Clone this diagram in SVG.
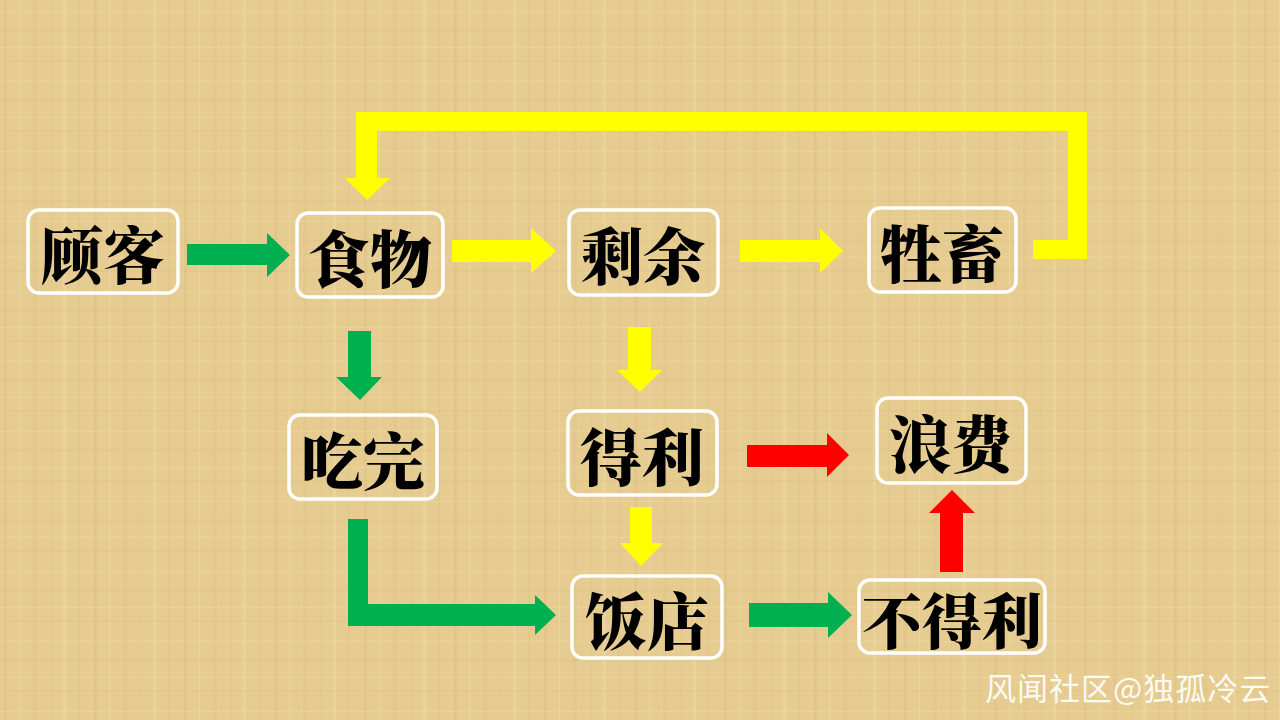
<svg xmlns="http://www.w3.org/2000/svg" width="1280" height="720" viewBox="0 0 1280 720">
<defs>
<style>
.box{fill:none;stroke:#ffffff;stroke-width:3.5}
.lbl{font-family:"Noto Serif CJK SC","Noto Sans CJK SC",serif;font-weight:900;font-size:62px;fill:#000;text-anchor:middle;dominant-baseline:central}
.g{fill:#00B050}.y{fill:#FFFF00}.r{fill:#FF0000}
.wm{font-family:"Noto Sans CJK SC","Noto Sans",sans-serif;font-size:31px;letter-spacing:1px;fill:#ffffff;fill-opacity:0.92}
</style>
<pattern id="tex" x="0" y="0" width="90" height="70" patternUnits="userSpaceOnUse">
<rect width="90" height="70" fill="#E6CC90"/>
<rect x="4" y="0" width="3" height="70" fill="#CDAE6C" opacity="0.18"/>
<rect x="19" y="0" width="1" height="70" fill="#F4E3B3" opacity="0.35"/>
<rect x="33" y="0" width="4" height="70" fill="#D4B574" opacity="0.18"/>
<rect x="51" y="0" width="1" height="70" fill="#CDAE6C" opacity="0.2"/>
<rect x="63" y="0" width="3" height="70" fill="#F4E3B3" opacity="0.3"/>
<rect x="78" y="0" width="2" height="70" fill="#CDAE6C" opacity="0.15"/>
<rect x="0" y="11" width="90" height="1" fill="#F4E3B3" opacity="0.3"/>
<rect x="0" y="29" width="90" height="3" fill="#D4B574" opacity="0.12"/>
<rect x="0" y="47" width="90" height="1" fill="#F4E3B3" opacity="0.28"/>
<rect x="0" y="60" width="90" height="2" fill="#CDAE6C" opacity="0.12"/>
</pattern>
</defs>
<rect width="1280" height="720" fill="url(#tex)"/>

<g id="connectors">
<polygon class="y" points="356,112 1087,112 1087,259 1033,259 1033,240 1068,240 1068,131 377,131 377,178 390,178 367,200 345,178 356,178"/>
<polygon class="g" points="187,244 267,244 267,233 290,255 267,277 267,265 187,265"/>
<polygon class="y" points="452,240 531,240 531,228 556,251 531,273 531,262 452,262"/>
<polygon class="y" points="740,240 820,240 820,228 843,251 820,273 820,262 740,262"/>
<polygon class="g" points="348,331 371,331 371,377 382,377 360,400 336,377 348,377"/>
<polygon class="y" points="628,327 651,327 651,370 662,370 640,392 617,370 628,370"/>
<polygon class="y" points="630,507 652,507 652,543 663,543 641,566 620,543 630,543"/>
<polygon class="g" points="348,519 368,519 368,604 535,604 535,595 556,615 535,635 535,626 348,626"/>
<polygon class="r" points="747,445 827,445 827,433 849,455 827,477 827,467 747,467"/>
<polygon class="r" points="940,572 963,572 963,513 975,513 952,490 929,513 940,513"/>
<polygon class="g" points="749,603 828,603 828,592 852,615 828,638 828,627 749,627"/>
</g>

<g id="n-guke"><rect class="box" x="28" y="210" width="150" height="83" rx="11"/><text class="lbl" x="103" y="252">顾客</text></g>
<g id="n-shiwu"><rect class="box" x="297" y="213" width="146" height="84" rx="11"/><text class="lbl" x="370" y="256">食物</text></g>
<g id="n-shengyu"><rect class="box" x="569" y="210" width="149" height="85" rx="11"/><text class="lbl" x="643" y="253">剩余</text></g>
<g id="n-shengchu"><rect class="box" x="869" y="208" width="147" height="84" rx="11"/><text class="lbl" x="942" y="251">牲畜</text></g>
<g id="n-chiwan"><rect class="box" x="289" y="415" width="148" height="84" rx="11"/><text class="lbl" x="363" y="458">吃完</text></g>
<g id="n-deli"><rect class="box" x="568" y="411" width="149" height="84" rx="11"/><text class="lbl" x="642" y="454">得利</text></g>
<g id="n-langfei"><rect class="box" x="877" y="398" width="149" height="85" rx="11"/><text class="lbl" x="951" y="441">浪费</text></g>
<g id="n-fandian"><rect class="box" x="572" y="576" width="150" height="82" rx="11"/><text class="lbl" x="647" y="618">饭店</text></g>
<g id="n-budeli"><rect class="box" x="859" y="580" width="186" height="73" rx="11"/><text class="lbl" x="952" y="618" style="font-size:60px">不得利</text></g>

<text class="wm" x="985" y="700">风闻社区@独孤冷云</text>
</svg>
